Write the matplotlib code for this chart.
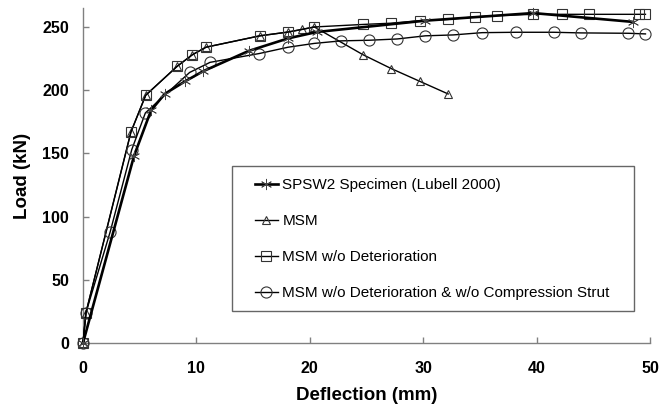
import matplotlib
matplotlib.use("Agg")
import matplotlib.pyplot as plt
from matplotlib.patches import Rectangle

plt.rcParams['font.family'] = ['Liberation Sans', 'DejaVu Sans']

# Data
spsw_x = [0, 4.5, 6.0, 7.2, 9.0, 10.6, 14.6, 18.1, 20.6, 30.2, 39.7, 48.5]
spsw_y = [0, 148, 184, 197, 207, 215, 231, 241, 246, 255, 261, 254]

msm_x = [0, 0.26, 4.23, 5.53, 8.32, 9.64, 10.85, 15.6, 18.1, 19.3, 20.4, 24.7, 27.2, 29.7, 32.2]
msm_y = [0, 24, 167, 196, 219, 228, 234, 243, 246, 248, 250, 228, 217, 207, 197]

nodet_x = [0, 0.26, 4.23, 5.53, 8.32, 9.64, 10.85, 15.6, 18.1, 20.4, 24.7, 27.2, 29.7,
           32.2, 34.6, 36.5, 39.7, 42.2, 44.6, 49.0, 49.6]
nodet_y = [0, 24, 167, 196, 219, 228, 234, 243, 246, 250, 252, 253, 255,
           256, 258, 259, 260, 260, 260, 260, 260]

nocomp_x = [0, 0.26, 2.4, 4.3, 5.5, 9.4, 11.2, 15.55, 18.1, 20.4, 22.75, 25.25, 27.7,
            30.2, 32.65, 35.2, 38.2, 41.5, 43.9, 48.1, 49.6]
nocomp_y = [0, 24, 88, 153, 182, 214, 222, 229, 234, 237, 239, 239.5, 240.5,
            243, 243.7, 245.5, 245.8, 245.8, 245.3, 245, 244.5]

labels = ["SPSW2 Specimen (Lubell 2000)", "MSM", "MSM w/o Deterioration",
          "MSM w/o Deterioration & w/o Compression Strut"]
xticks = [0, 10, 20, 30, 40, 50]
yticks = [0, 50, 100, 150, 200, 250]

W, H = 668, 412
fig = plt.figure(figsize=(W / 100, H / 100), dpi=100)
ax = fig.add_axes([83 / W, 1 - 343 / H, (650 - 83) / W, (343 - 8) / H])

mec = '#333333'
l1, = ax.plot(spsw_x, spsw_y, color='black', lw=1.9, marker=(6, 2, 0), ms=8,
              mec='#444444', mew=0.6, clip_on=False, zorder=4)
l2, = ax.plot(msm_x, msm_y, color='black', lw=1.0, marker='^', ms=6,
              mfc='none', mec=mec, mew=0.8, clip_on=False, zorder=3)
l3, = ax.plot(nodet_x, nodet_y, color='black', lw=1.0, marker='s', ms=7.2,
              mfc='none', mec=mec, mew=0.8, clip_on=False, zorder=3)
l4, = ax.plot(nocomp_x, nocomp_y, color='black', lw=1.0, marker='o', ms=8,
              mfc='none', mec=mec, mew=0.8, clip_on=False, zorder=3)

ax.set_xlim(0, 50)
ax.set_ylim(0, 265)
ax.set_xticks(xticks)
ax.set_yticks(yticks)
ax.set_xticklabels([str(t) for t in xticks], fontweight='bold', fontsize=11.5)
ax.set_yticklabels([str(t) for t in yticks], fontweight='bold', fontsize=11.5)
ax.tick_params(direction='in', length=4, width=1, color='#808080')
ax.tick_params(axis='x', pad=13)
ax.tick_params(axis='y', pad=10)
for s in ['top', 'right']:
    ax.spines[s].set_visible(False)
for s in ['left', 'bottom']:
    ax.spines[s].set_color('#808080')
    ax.spines[s].set_linewidth(1.0)

ax.set_xlabel("Deflection (mm)", fontweight='bold', fontsize=13.5, labelpad=8)
ax.set_ylabel("Load (kN)", fontweight='bold', fontsize=13.5, labelpad=8)

# legend frame
fig.patches.append(Rectangle((232 / W, 1 - 311 / H), (634 - 232) / W, (311 - 166) / H,
                             transform=fig.transFigure, fill=False,
                             edgecolor='#666666', lw=1.0, zorder=5))
leg = fig.legend([l1, l2, l3, l4], labels, loc='upper left',
                 bbox_to_anchor=(255 / W, 1 - 178 / H), frameon=False,
                 fontsize=11, numpoints=1, handlelength=1.5, handletextpad=0.3,
                 labelspacing=1.45, borderpad=0, borderaxespad=0)

fig.savefig("out.png", dpi=100)
